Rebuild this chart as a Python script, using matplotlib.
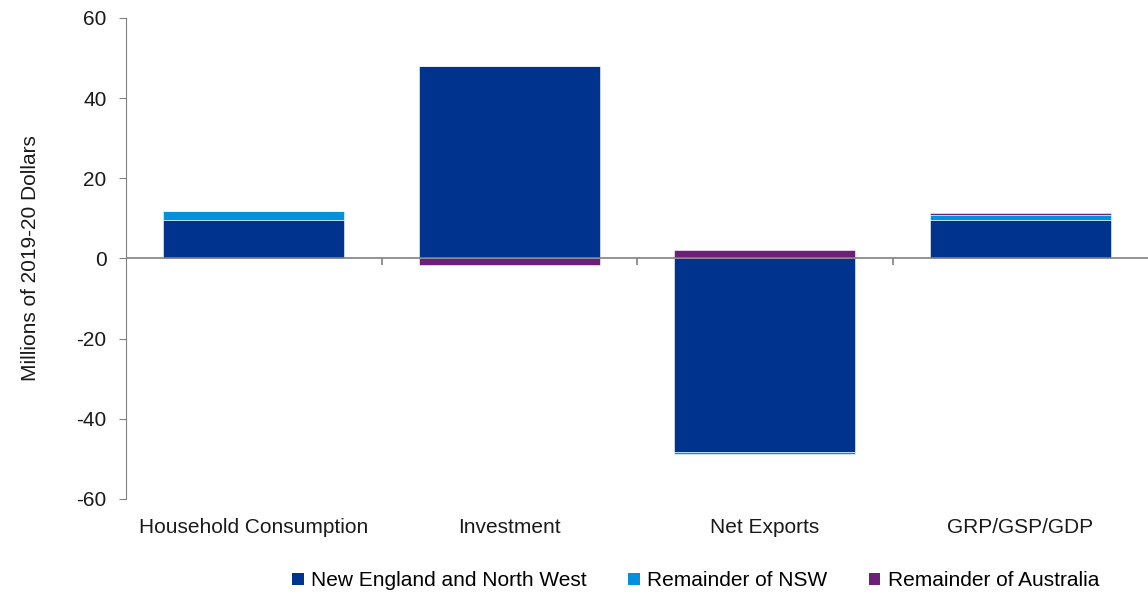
import numpy as np
import matplotlib
matplotlib.use("Agg")
import matplotlib.pyplot as plt
from matplotlib.patches import Patch

plt.rcParams['font.family'] = ['Liberation Sans', 'DejaVu Sans']
plt.rcParams['axes.unicode_minus'] = False

categories = ["Household Consumption", "Investment", "Net Exports", "GRP/GSP/GDP"]
series_names = ["New England and North West", "Remainder of NSW", "Remainder of Australia"]
new_england = [9.6, 47.9, -48.2, 9.5]
remainder_nsw = [2.2, 0.2, -0.7, 1.4]
remainder_aus = [0.0, -1.6, 2.1, 0.5]
colors = ["#00338D", "#0091DA", "#6D2077"]
text_col = "#1a1a1a"

fig = plt.figure(figsize=(11.48, 5.94), dpi=100)
ax = fig.add_axes([0.1098, 0.16, 0.8902, 0.8097])

x = np.arange(len(categories))
pos_base = np.zeros(len(categories))
neg_base = np.zeros(len(categories))
for vals, col in zip([new_england, remainder_nsw, remainder_aus], colors):
    vals = np.array(vals)
    bottoms = np.where(vals >= 0, pos_base, neg_base)
    ax.bar(x, vals, width=0.71, bottom=bottoms, color=col,
           edgecolor="white", linewidth=0.4, zorder=2)
    pos_base += np.clip(vals, 0, None)
    neg_base += np.clip(vals, None, 0)

ax.set_xlim(-0.5, len(categories) - 0.5)
ax.set_ylim(-60, 60)
ax.set_yticks(np.arange(-60, 61, 20))
ax.set_xticks(x)
ax.set_xticklabels(categories)

for s in ["top", "right", "bottom"]:
    ax.spines[s].set_visible(False)
ax.spines["left"].set_color("#808080")
ax.tick_params(axis="y", length=5, color="#808080", labelsize=15, labelcolor=text_col, pad=9)
ax.tick_params(axis="x", length=0, labelsize=15, labelcolor=text_col, pad=14)

# zero line with short separators between categories
ax.axhline(0, color="#808080", linewidth=1.2, zorder=3)
ax.vlines(x[:-1] + 0.5, -1.6, 0, color="#808080", linewidth=1.2, zorder=3)

ax.set_ylabel("Millions of 2019-20 Dollars", fontsize=15, color=text_col, labelpad=26)

handles = [Patch(facecolor=c, edgecolor="none") for c in colors]
fig.legend(handles, series_names, loc="center", bbox_to_anchor=(0.606, 0.022),
           ncol=3, frameon=False, fontsize=15, handlelength=0.55, handleheight=0.55,
           handletextpad=0.35, columnspacing=2.0, borderpad=0)

fig.savefig("out.png", dpi=100)
